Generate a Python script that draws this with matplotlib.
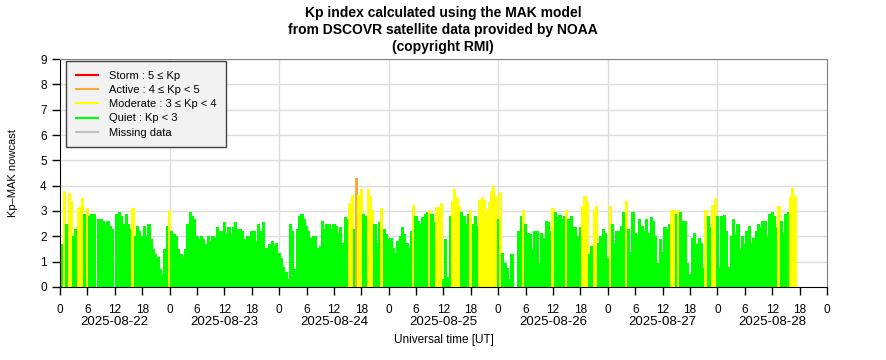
import numpy as np
import pandas as pd
import matplotlib
matplotlib.use('Agg')
import matplotlib.pyplot as plt
import matplotlib.dates as mdates
from matplotlib.lines import Line2D
from matplotlib.ticker import FuncFormatter, MultipleLocator

plt.rcParams['font.family'] = ['Liberation Sans', 'DejaVu Sans']

# Kp-MAK nowcast, one value every 30 minutes starting 2025-08-22 00:00 UT
kp_0822 = [0.7, 1.7, 3.8, 2.5, 3.7, 3.4, 2.0, 2.3, 3.1, 3.2, 3.5, 2.9,
           3.1, 2.8, 2.9, 2.9, 0.0, 2.7, 2.7, 2.6, 2.5, 2.6, 2.4, 2.3,
           0.0, 2.9, 2.95, 2.8, 2.5, 2.9, 2.5, 2.3, 3.1, 2.0, 2.4, 2.2,
           2.0, 2.4, 2.0, 2.5, 1.9, 1.5, 1.3, 1.2, 0.7, 0.5, 1.5, 2.4]
kp_0823 = [3.05, 2.2, 2.1, 2.0, 1.5, 1.3, 1.2, 1.5, 2.5, 2.95, 2.8, 2.7,
           2.0, 1.9, 2.0, 1.9, 1.7, 2.0, 1.8, 2.0, 1.95, 2.35, 2.2, 2.2,
           2.55, 2.1, 2.35, 2.1, 2.35, 2.55, 2.3, 2.3, 2.2, 1.9, 2.0, 2.0,
           2.2, 2.2, 1.8, 2.5, 2.2, 2.55, 1.55, 1.55, 1.7, 1.8, 1.6, 1.75]
kp_0824 = [1.35, 1.15, 0.8, 0.6, 0.3, 2.5, 2.2, 0.7, 2.3, 2.8, 2.9, 2.7,
           2.4, 2.2, 1.95, 2.0, 2.0, 1.55, 1.6, 2.6, 2.3, 2.5, 2.5, 2.3,
           2.5, 2.4, 2.15, 2.35, 1.75, 2.75, 2.7, 3.3, 3.65, 2.3, 4.3, 3.65,
           3.85, 2.9, 2.8, 3.85, 3.6, 3.05, 2.5, 1.75, 2.55, 3.1, 2.3, 2.1]
kp_0825 = [1.9, 1.95, 1.55, 1.35, 1.8, 2.0, 2.35, 2.1, 1.75, 1.55, 2.2, 3.25,
           2.8, 2.6, 2.5, 2.75, 2.9, 2.95, 3.05, 2.9, 2.55, 3.15, 3.15, 3.3,
           0.3, 1.9, 0.4, 2.8, 3.4, 3.85, 3.55, 3.2, 2.95, 2.8, 2.5, 2.9,
           3.05, 2.5, 2.8, 2.4, 3.45, 3.55, 3.45, 3.05, 3.35, 3.8, 3.97, 3.6]
kp_0826 = [2.7, 3.75, 1.35, 0.95, 0.75, 0.3, 1.3, 0.0, 0.0, 2.2, 2.8, 3.05,
           2.5, 2.15, 2.1, 1.5, 2.2, 2.2, 0.95, 2.15, 1.95, 2.6, 2.55, 2.2,
           3.1, 2.95, 2.75, 2.85, 2.7, 2.8, 3.05, 2.7, 2.8, 2.35, 2.35, 2.0,
           2.35, 3.2, 3.6, 3.35, 1.3, 1.6, 3.05, 3.2, 1.75, 2.0, 2.3, 2.15]
kp_0827 = [1.15, 3.2, 2.5, 1.75, 2.2, 2.2, 2.4, 2.95, 3.4, 2.3, 1.4, 2.95,
           2.15, 2.1, 2.7, 2.4, 2.2, 2.7, 2.15, 2.75, 2.6, 2.0, 0.95, 1.9,
           1.4, 2.35, 2.3, 2.5, 3.05, 3.05, 2.9, 3.05, 2.95, 2.6, 2.6, 0.95,
           0.5, 1.95, 2.15, 1.7, 1.95, 1.75, 0.75, 3.05, 2.8, 2.35, 3.25, 3.5]
kp_0828 = [2.8, 0.8, 2.8, 2.85, 2.2, 0.8, 2.0, 2.7, 2.1, 2.5, 1.5, 2.0,
           1.7, 2.2, 2.4, 1.75, 1.95, 2.2, 2.5, 2.35, 2.6, 2.6, 2.0, 2.9,
           2.95, 2.8, 2.35, 3.2, 2.6, 2.15, 2.9, 2.95, 3.55, 3.9, 3.6]

day_labels = ['2025-08-22', '2025-08-23', '2025-08-24', '2025-08-25',
              '2025-08-26', '2025-08-27', '2025-08-28']

legend_labels = ['Storm : 5 \u2264 Kp', 'Active : 4 \u2264 Kp < 5',
                 'Moderate : 3 \u2264 Kp < 4', 'Quiet : Kp < 3', 'Missing data']
legend_colours = ['#ff0000', '#ffa836', '#ffff00', '#00ff00', '#c0c0c0']


def kp_colour(v):
    if v >= 5:
        return legend_colours[0]
    if v >= 4:
        return legend_colours[1]
    if v >= 3:
        return legend_colours[2]
    return legend_colours[3]


kp = np.array(kp_0822 + kp_0823 + kp_0824 + kp_0825 + kp_0826 + kp_0827 + kp_0828)
start = pd.Timestamp(day_labels[0])
times = pd.date_range(start, periods=len(kp), freq='30min')
colours = [kp_colour(v) for v in kp]

fig = plt.figure(figsize=(8.86, 3.6), dpi=100)
ax = fig.add_axes([0.0677, 0.2028, 0.8657, 0.6333])

# bars slightly wider than the sampling step so no white slivers show
ax.bar(mdates.date2num(times), kp, width=1.4 / 48, align='center',
       color=colours, linewidth=0, antialiased=False, zorder=2)

t0 = mdates.date2num(start)
ax.set_xlim(t0, t0 + 7)
ax.set_ylim(0, 9)

# grid: horizontal every unit, vertical at day boundaries
for y in range(1, 10):
    ax.axhline(y, color='#dcdcdc', lw=1, zorder=1)
for d in range(1, 7):
    ax.axvline(t0 + d, color='#dcdcdc', lw=1, zorder=1)

ax.xaxis.set_major_locator(MultipleLocator(0.25))
ax.xaxis.set_major_formatter(FuncFormatter(
    lambda x, pos: str(int(round((x - t0) * 24)) % 24)))
ax.yaxis.set_major_locator(MultipleLocator(1))
ax.tick_params(axis='both', direction='out', length=6, width=1,
               labelsize=8.5, colors='black')
ax.tick_params(axis='x', pad=6)

for i, lab in enumerate(day_labels):
    ax.text(t0 + i + 0.5, -0.155, lab, transform=ax.get_xaxis_transform(),
            ha='center', va='center', fontsize=9.5)

ax.set_xlabel('Universal time [UT]', fontsize=8.5, labelpad=13)
ax.set_ylabel('Kp\u2013MAK nowcast', fontsize=8, labelpad=16)

for side in ['left', 'bottom']:
    ax.spines[side].set_color('black')
for side in ['top', 'right']:
    ax.spines[side].set_color('#808080')

handles = [Line2D([0], [0], color=c, lw=1.5) for c in legend_colours]
leg = ax.legend(handles, legend_labels, loc='upper left', fontsize=8,
                bbox_to_anchor=(0.008, 0.99), fancybox=False,
                framealpha=1, facecolor='#f2f2f2', edgecolor='#404040',
                handlelength=2.0, handletextpad=1.0, labelspacing=0.38,
                borderpad=0.85, borderaxespad=0)
leg.get_frame().set_linewidth(1)

fig.text(0.5, 0.984, 'Kp index calculated using the MAK model\n'
         'from DSCOVR satellite data provided by NOAA\n(copyright RMI)',
         ha='center', va='top', fontsize=10, fontweight='bold',
         linespacing=1.3)

fig.savefig('out.png', dpi=100)
